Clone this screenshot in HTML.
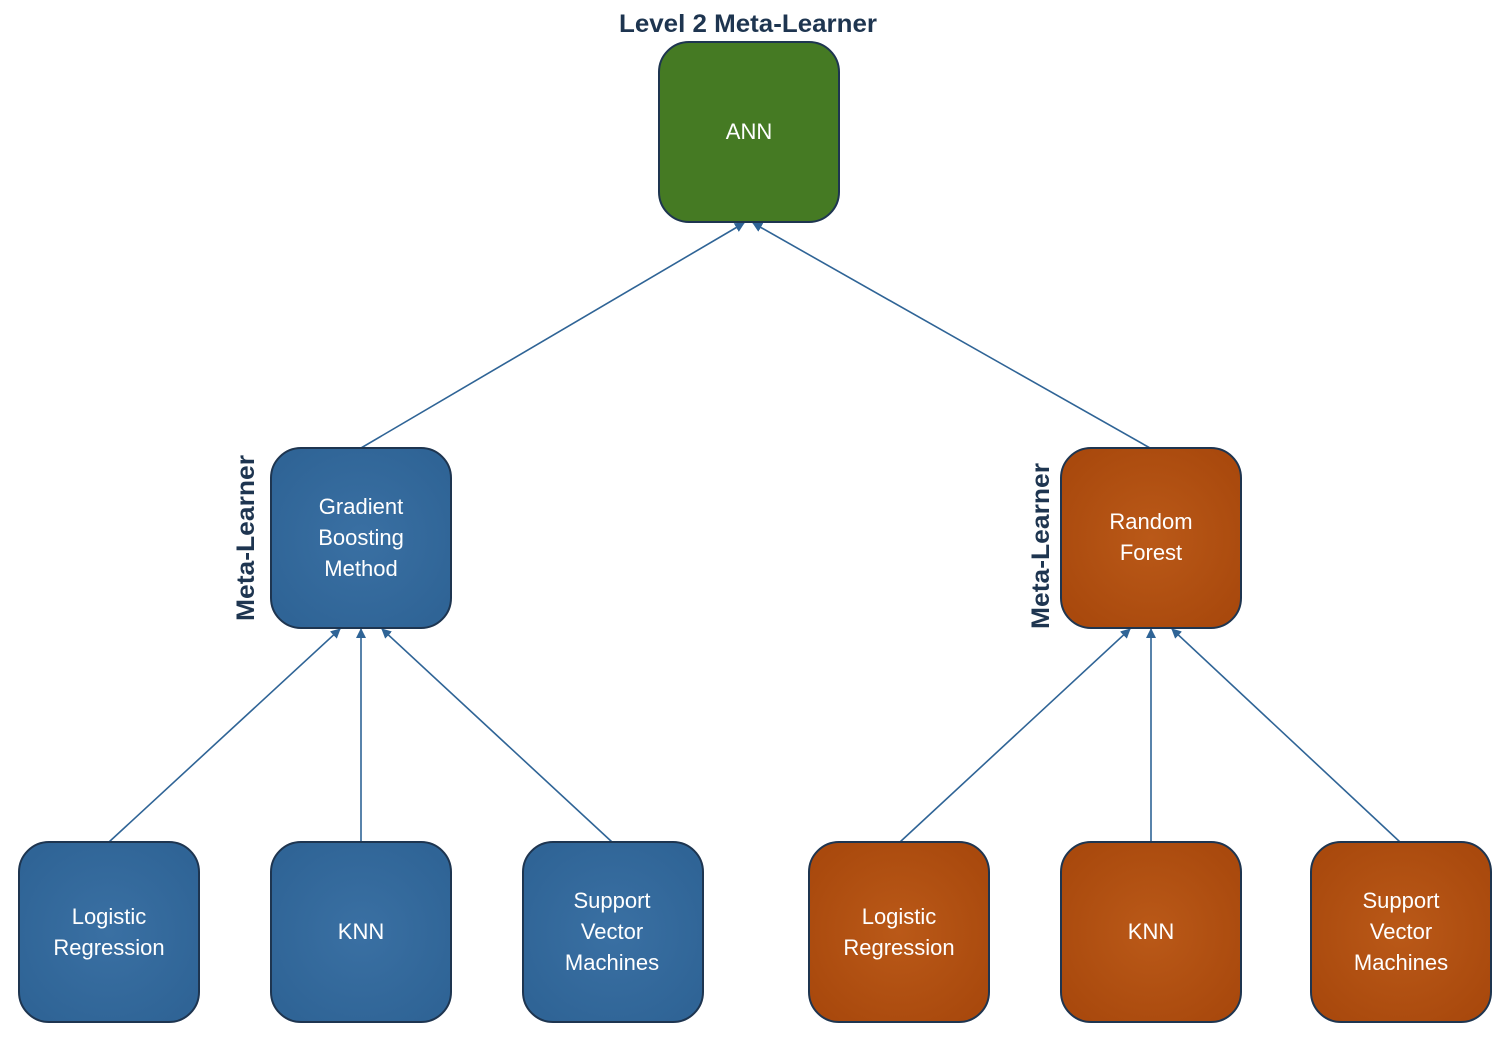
<!DOCTYPE html>
<html><head><meta charset="utf-8"><style>
html,body{margin:0;padding:0;background:#fff;}
svg{display:block;}
text{font-family:"Liberation Sans",sans-serif;}
</style></head><body>
<svg width="1510" height="1047" viewBox="0 0 1510 1047" xmlns="http://www.w3.org/2000/svg">
<defs>
<radialGradient id="gb" cx="50%" cy="50%" r="60%"><stop offset="0" stop-color="#3a70a3"/><stop offset="1" stop-color="#2f6496"/></radialGradient>
<radialGradient id="go" cx="50%" cy="50%" r="60%"><stop offset="0" stop-color="#ba5918"/><stop offset="1" stop-color="#a9490d"/></radialGradient>
<marker id="ar" viewBox="0 0 10 10" refX="9" refY="5" markerWidth="10" markerHeight="10" orient="auto" markerUnits="userSpaceOnUse"><path d="M0,0 L10,5 L0,10 z" fill="#2f6496"/></marker>
</defs>
<g stroke="#2f6496" stroke-width="1.6" fill="none" marker-end="url(#ar)">
<line x1="361" y1="448" x2="744" y2="223"/>
<line x1="1150" y1="448" x2="753" y2="223"/>
<line x1="109" y1="842" x2="340" y2="629"/>
<line x1="361" y1="842" x2="361" y2="629"/>
<line x1="612" y1="842" x2="382" y2="629"/>
<line x1="900" y1="842" x2="1130" y2="629"/>
<line x1="1151" y1="842" x2="1151" y2="629"/>
<line x1="1400" y1="842" x2="1172" y2="629"/>
</g>
<g stroke="#1e3550" stroke-width="2">
<rect x="659" y="42" width="180" height="180" rx="30" fill="#457a23"/>
<rect x="271" y="448" width="180" height="180" rx="30" fill="url(#gb)"/>
<rect x="1061" y="448" width="180" height="180" rx="30" fill="url(#go)"/>
<rect x="19" y="842" width="180" height="180" rx="30" fill="url(#gb)"/>
<rect x="271" y="842" width="180" height="180" rx="30" fill="url(#gb)"/>
<rect x="523" y="842" width="180" height="180" rx="30" fill="url(#gb)"/>
<rect x="809" y="842" width="180" height="180" rx="30" fill="url(#go)"/>
<rect x="1061" y="842" width="180" height="180" rx="30" fill="url(#go)"/>
<rect x="1311" y="842" width="180" height="180" rx="30" fill="url(#go)"/>
</g>
<g fill="#fff" font-size="22" text-anchor="middle">
<text x="749" y="139">ANN</text>
<text x="361" y="514">Gradient</text><text x="361" y="545">Boosting</text><text x="361" y="576">Method</text>
<text x="1151" y="529">Random</text><text x="1151" y="560">Forest</text>
<text x="109" y="924">Logistic</text><text x="109" y="955">Regression</text>
<text x="361" y="939">KNN</text>
<text x="612" y="908">Support</text><text x="612" y="939">Vector</text><text x="612" y="970">Machines</text>
<text x="899" y="924">Logistic</text><text x="899" y="955">Regression</text>
<text x="1151" y="939">KNN</text>
<text x="1401" y="908">Support</text><text x="1401" y="939">Vector</text><text x="1401" y="970">Machines</text>
</g>
<g fill="#1e3550" font-size="25" font-weight="bold" text-anchor="middle">
<text x="748" y="32" textLength="258" lengthAdjust="spacingAndGlyphs">Level 2 Meta-Learner</text>
<text transform="translate(254,538) rotate(-90)" textLength="166" lengthAdjust="spacingAndGlyphs">Meta-Learner</text>
<text transform="translate(1049,546) rotate(-90)" textLength="166" lengthAdjust="spacingAndGlyphs">Meta-Learner</text>
</g>
</svg>
</body></html>
